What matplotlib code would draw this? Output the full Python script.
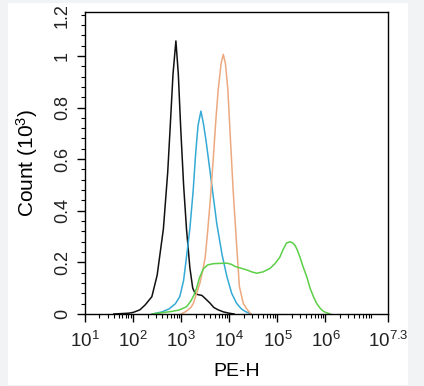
import matplotlib
matplotlib.use("Agg")
import matplotlib.pyplot as plt
import matplotlib.patches as mpatches
from matplotlib.ticker import FixedLocator, LogLocator, MultipleLocator, NullFormatter
import numpy as np

plt.rcParams['font.family'] = ['Liberation Sans', 'DejaVu Sans']
plt.rcParams['mathtext.fontset'] = 'custom'
plt.rcParams['mathtext.rm'] = 'Liberation Sans'
plt.rcParams['mathtext.it'] = 'Liberation Sans'
plt.rcParams['text.color'] = '#222222'
plt.rcParams['xtick.labelcolor'] = '#222222'
plt.rcParams['ytick.labelcolor'] = '#222222'

# histogram curves: log10(PE-H) and count (10^3)
black_log = [1.6, 1.9, 2.0, 2.14, 2.25, 2.39, 2.5, 2.63, 2.72, 2.77, 2.83, 2.89, 2.94, 2.99,
             3.05, 3.11, 3.18, 3.24, 3.29, 3.35, 3.43, 3.5, 3.6, 3.68, 3.77, 3.88, 4.0, 4.1]
black_cnt = [0, 0.003, 0.006, 0.016, 0.035, 0.067, 0.15, 0.33, 0.55, 0.72, 0.93, 1.058, 0.93, 0.72,
             0.5, 0.33, 0.18, 0.1, 0.08, 0.075, 0.072, 0.06, 0.042, 0.025, 0.016, 0.008, 0.003, 0]

cyan_log = [2.4, 2.6, 2.75, 2.88, 2.97, 3.05, 3.11, 3.18, 3.25, 3.3, 3.35, 3.41, 3.46, 3.51,
            3.56, 3.65, 3.74, 3.85, 3.95, 4.05, 4.15, 4.25, 4.33, 4.45]
cyan_cnt = [0, 0.008, 0.02, 0.04, 0.067, 0.13, 0.22, 0.33, 0.48, 0.62, 0.73, 0.786, 0.74, 0.68,
            0.61, 0.48, 0.35, 0.23, 0.145, 0.08, 0.042, 0.02, 0.01, 0]

orange_log = [3.0, 3.1, 3.2, 3.25, 3.32, 3.39, 3.45, 3.5, 3.55, 3.6, 3.67, 3.72, 3.77, 3.83,
              3.875, 3.92, 3.97, 4.02, 4.08, 4.15, 4.21, 4.29, 4.36, 4.45]
orange_cnt = [0, 0.01, 0.025, 0.04, 0.08, 0.12, 0.17, 0.22, 0.32, 0.43, 0.61, 0.75, 0.87, 0.97,
              1.006, 0.97, 0.87, 0.69, 0.48, 0.275, 0.106, 0.042, 0.02, 0]

green_log = [2.4, 2.6, 2.8, 2.95, 3.11, 3.2, 3.27, 3.32, 3.38, 3.46, 3.55, 3.67, 3.8, 3.95,
             4.05, 4.12, 4.25, 4.36, 4.47, 4.57, 4.7, 4.85, 4.95, 5.05, 5.12, 5.19, 5.26, 5.32,
             5.37, 5.42, 5.47, 5.54, 5.61, 5.68, 5.75, 5.82, 5.89, 5.96, 6.02, 6.1]
green_cnt = [0, 0.005, 0.01, 0.015, 0.028, 0.05, 0.075, 0.1, 0.14, 0.175, 0.19, 0.195, 0.196, 0.197,
             0.192, 0.184, 0.177, 0.171, 0.163, 0.158, 0.163, 0.177, 0.195, 0.22, 0.25, 0.275, 0.28, 0.275,
             0.265, 0.245, 0.22, 0.18, 0.145, 0.1, 0.067, 0.04, 0.022, 0.01, 0.005, 0]

tick_exps = [1, 2, 3, 4, 5, 6, 7.3]
tick_labels = ['$10^{1}$', '$10^{2}$', '$10^{3}$', '$10^{4}$', '$10^{5}$', '$10^{6}$', '$10^{7.3}$']

fig = plt.figure(figsize=(4.24, 3.86), dpi=100, facecolor='#f1f3f4')
fig.patches.append(mpatches.Rectangle((8 / 424, 1 / 386), 400 / 424, 382 / 386,
                                      transform=fig.transFigure, facecolor='white',
                                      edgecolor='none', zorder=-5))
ax = fig.add_axes([85 / 424, 72 / 386, 303 / 424, 302 / 386])
ax.set_facecolor('white')

curves = [(black_log, black_cnt, '#111111'),
          (cyan_log, cyan_cnt, '#34aad4'),
          (orange_log, orange_cnt, '#eca97f'),
          (green_log, green_cnt, '#5ccf48')]
for lg, cnt, col in curves:
    ax.plot(10 ** np.array(lg), cnt, color=col, lw=1.1)

ax.set_xscale('log')
ax.set_xlim(10, 10 ** 7.3)
ax.set_ylim(0, 1.17)

ax.xaxis.set_major_locator(FixedLocator([10 ** e for e in tick_exps]))
ax.set_xticklabels(tick_labels, fontsize=13.5)
ax.xaxis.set_minor_locator(LogLocator(base=10, subs=range(2, 10)))
ax.xaxis.set_minor_formatter(NullFormatter())

ax.yaxis.set_minor_locator(MultipleLocator(0.04))
ax.set_yticks([0, 0.2, 0.4, 0.6, 0.8, 1.0])
ax.set_yticklabels(['0', '0.2', '0.4', '0.6', '0.8', '1'], fontsize=13, rotation=90, va='center')
ax.text(-0.075, 1.155, '1.2', transform=ax.get_yaxis_transform(), rotation=90,
        ha='center', va='center', fontsize=13, clip_on=False)

ax.tick_params(axis='both', which='major', length=6, width=1, direction='out')
ax.tick_params(axis='both', which='minor', length=3, width=0.8, direction='out')
ax.tick_params(axis='x', pad=6)
ax.tick_params(axis='y', pad=4)
for s in ax.spines.values():
    s.set_linewidth(1)

ax.set_xlabel('PE-H', fontsize=14, labelpad=9)
ax.set_ylabel('Count ($10^{3}$)', fontsize=15, labelpad=10)

fig.savefig('out.png', dpi=100, facecolor=fig.get_facecolor())
